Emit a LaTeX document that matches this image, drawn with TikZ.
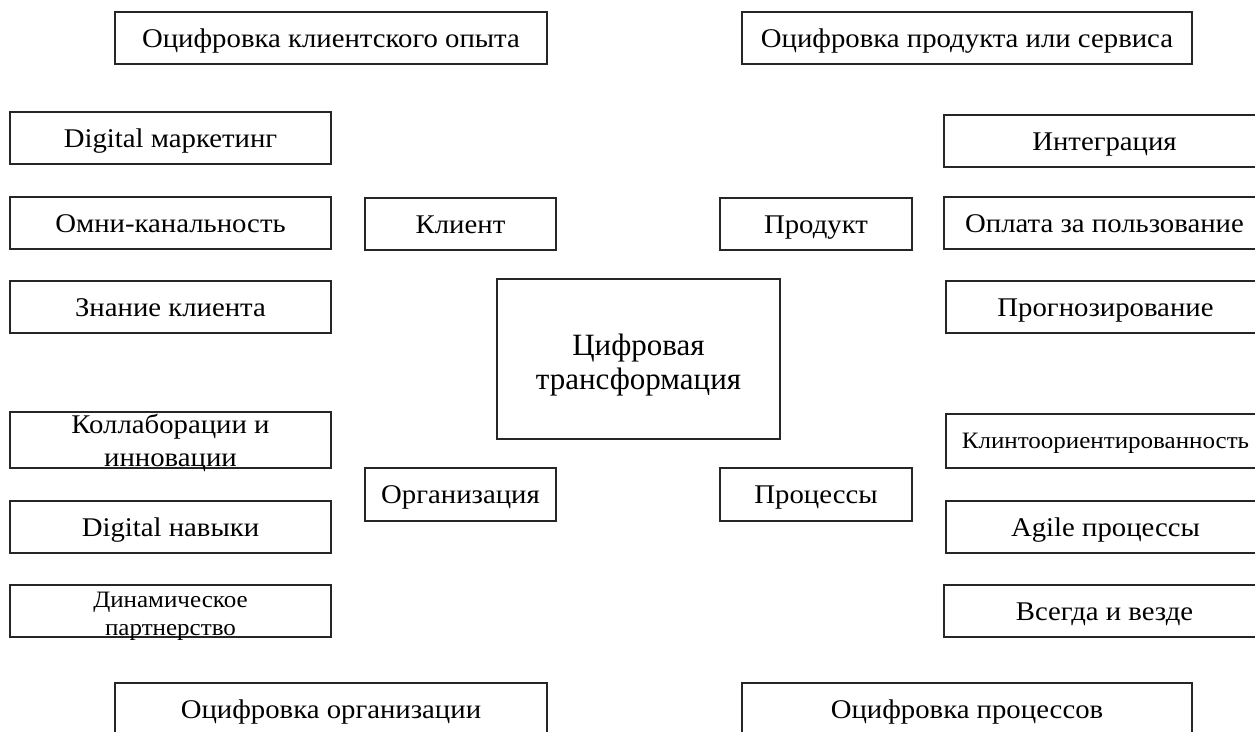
\documentclass[tikz,border=0pt]{standalone}
\usepackage{fontspec}
\usepackage{graphicx}
\setmainfont{Liberation Serif}
\newcommand\widetxt[1]{\scalebox{1.065}[1]{#1}}
\begin{document}
\begin{tikzpicture}[x=1pt,y=-1pt,
  frame/.style={draw=black!85,line width=1.3pt,inner sep=0pt},
  bx/.style={frame,font=\fontsize{27}{32}\selectfont,text height=23pt,text depth=5pt},
  smallbx/.style={font=\fontsize{23.5}{28}\selectfont,text height=20pt,text depth=4.4pt},
  lbl/.style={inner sep=0pt,anchor=base,font=\fontsize{27}{32}\selectfont},
]
\useasboundingbox (0,0) rectangle (1255,731);
\clip (0,0) rectangle (1255,731);
\fill[white] (0,0) rectangle (1255,731);
% top
\node[bx,minimum width=432pt,minimum height=52pt] (t1) at (331,38) {\widetxt{Оцифровка клиентского опыта}};
\node[bx,minimum width=450pt,minimum height=52pt] (t2) at (967,38) {\widetxt{Оцифровка продукта или сервиса}};
% left column
\node[bx,minimum width=321pt,minimum height=52pt] (l1) at (170.5,138) {\widetxt{Digital маркетинг}};
\node[bx,minimum width=321pt,minimum height=52pt] (l2) at (170.5,223) {\widetxt{Омни-канальность}};
\node[bx,minimum width=321pt,minimum height=52pt] (l3) at (170.5,307) {\widetxt{Знание клиента}};
\node[frame,minimum width=321pt,minimum height=56pt] (l4) at (170.5,440) {};
\node[lbl] (l4a) at (170.5,433) {\widetxt{Коллаборации и}};
\node[lbl] (l4b) at (170.5,466) {\widetxt{инновации}};
\node[bx,minimum width=321pt,minimum height=52pt] (l5) at (170.5,527) {\widetxt{Digital навыки}};
\node[frame,minimum width=321pt,minimum height=52pt] (l6) at (170.5,611) {};
\node[lbl,font=\fontsize{23.5}{28}\selectfont] (l6a) at (170.5,607) {\widetxt{Динамическое}};
\node[lbl,font=\fontsize{23.5}{28}\selectfont] (l6b) at (170.5,635) {\widetxt{партнерство}};
% inner
\node[bx,minimum width=191pt,minimum height=52pt] (c1) at (460.5,224) {\widetxt{Клиент}};
\node[bx,minimum width=192pt,minimum height=52pt] (c2) at (816,224) {\widetxt{Продукт}};
\node[bx,minimum width=191pt,minimum height=53pt] (c3) at (460.5,494.5) {\widetxt{Организация}};
\node[bx,minimum width=192pt,minimum height=53pt] (c4) at (816,494.5) {\widetxt{Процессы}};
% center
\node[frame,minimum width=283pt,minimum height=160pt] (ct) at (638.5,359) {};
\node[lbl,font=\fontsize{31}{35}\selectfont] (cta) at (638.5,355) {Цифровая};
\node[lbl,font=\fontsize{31}{35}\selectfont] (ctb) at (638.5,389) {трансформация};
% right column
\node[bx,minimum width=321pt,minimum height=52pt] (r1) at (1104.5,141) {\widetxt{Интеграция}};
\node[bx,minimum width=321pt,minimum height=52pt] (r2) at (1104.5,223) {\widetxt{Оплата за пользование}};
\node[bx,minimum width=319pt,minimum height=52pt] (r3) at (1105.5,307) {\widetxt{Прогнозирование}};
\node[bx,smallbx,minimum width=319pt,minimum height=54pt] (r4) at (1105.5,441) {\widetxt{Клинтоориентированность}};
\node[bx,minimum width=319pt,minimum height=52pt] (r5) at (1105.5,527) {\widetxt{Agile процессы}};
\node[bx,minimum width=321pt,minimum height=52pt] (r6) at (1104.5,611) {\widetxt{Всегда и везде}};
% bottom
\node[bx,minimum width=432pt,minimum height=52pt] (b1) at (331,709) {\widetxt{Оцифровка организации}};
\node[bx,minimum width=450pt,minimum height=52pt] (b2) at (967,709) {\widetxt{Оцифровка процессов}};
\end{tikzpicture}
\end{document}
